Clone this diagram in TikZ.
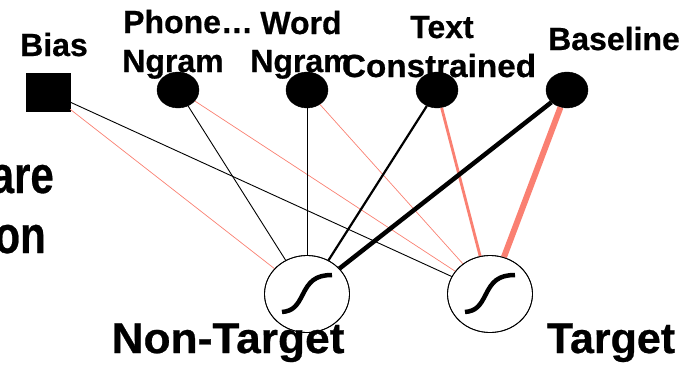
\documentclass[tikz,border=0pt]{standalone}
\usepackage{fontspec}
\setmainfont{Liberation Sans}[BoldFeatures={FakeBold=0.6}]
\usetikzlibrary{shapes.geometric}
\definecolor{wpos}{RGB}{250,128,114}
\tikzset{
  lbl/.style={font=\bfseries\fontsize{32}{39}\selectfont, inner sep=0pt},
  big/.style={font=\bfseries\fontsize{43}{48}\selectfont, inner sep=0pt},
  side/.style={font=\bfseries\fontsize{42}{46}\selectfont, inner sep=0pt},
  feat/.style={ellipse, fill=black, draw=black, minimum width=42pt, minimum height=36pt, inner sep=0pt},
  biasbox/.style={rectangle, fill=black, draw=black, minimum width=44pt, minimum height=38pt, inner sep=0pt},
  unit/.style={ellipse, draw=black, line width=0.8pt, fill=white, minimum width=85pt, minimum height=77pt, inner sep=0pt},
  wneg/.style={draw=black},
  wpl/.style={draw=wpos},
  sig/.style={line width=4.5pt, black},
}
\begin{document}
\begin{tikzpicture}[x=1pt, y=-1pt]
  \useasboundingbox (0,0) rectangle (695,365);
  \clip (0,0) rectangle (695,365);

  % partial text on the left edge
  \node[side, anchor=base east] (sa) at (54,193) {\scalebox{1}[1.25]{are}};
  \node[side, anchor=base east] (sb) at (46,253) {\scalebox{1}[1.25]{on}};

  % input features
  \node[biasbox] (bias) at (48,92) {};
  \node[feat] (phone) at (178,90) {};
  \node[feat] (word) at (307,90) {};
  \node[feat] (text) at (437,90) {};
  \node[feat] (base) at (567,90) {};

  % feature labels
  \node[lbl, anchor=base] (lbias) at (54,56) {Bias};
  \node[lbl, anchor=base west] (lph1) at (123,33) {Phone…};
  \node[lbl, anchor=base] (lph2) at (173,72) {Ngram};
  \node[lbl, anchor=base] (lwd1) at (301,34) {Word};
  \node[lbl, anchor=base] (lwd2) at (301,72) {Ngram};
  \node[lbl, anchor=base] (ltx1) at (442,38) {Text};
  \node[lbl, anchor=base] (ltx2) at (439,77) {\scalebox{1.04}[1]{Constrained}};
  \node[lbl, anchor=base] (lbase) at (614,50) {Baseline};

  % output units
  \node[unit] (nt) at (307,294) {};
  \node[unit] (tg) at (490,294) {};

  % weights (black = to non-target, salmon = to target, width = magnitude)
  \draw[wpl, line width=0.7pt] (bias) -- (nt);
  \draw[wneg, line width=0.9pt] (bias) -- (tg);
  \draw[wneg, line width=0.9pt] (phone) -- (nt);
  \draw[wpl, line width=0.7pt] (phone) -- (tg);
  \draw[wneg, line width=0.9pt] (word) -- (nt);
  \draw[wpl, line width=0.7pt] (word) -- (tg);
  \draw[wneg, line width=2.2pt] (text) -- (nt);
  \draw[wpl, line width=2.8pt] (text) -- (tg);
  \draw[wneg, line width=4.5pt] (base) -- (nt);
  \draw[wpl, line width=6pt] (base) -- (tg);

  % redraw unit outlines over the line ends
  \node[unit, fill=none] (nto) at (nt) {};
  \node[unit, fill=none] (tgo) at (tg) {};

  % sigmoid glyphs
  \foreach \u in {nt,tg}{
    \begin{scope}[shift={(\u)}]
      \draw[sig] (-25,18) .. controls (-14,17) and (-10,12) .. (-4,0)
                 .. controls (2,-12) and (8,-19) .. (25,-19);
    \end{scope}
  }

  % output labels
  \node[big, anchor=base] (lnt) at (228,353) {\scalebox{1.03}[1]{Non-Target}};
  \node[big, anchor=base] (ltg) at (611,353) {Target};
\end{tikzpicture}
\end{document}
